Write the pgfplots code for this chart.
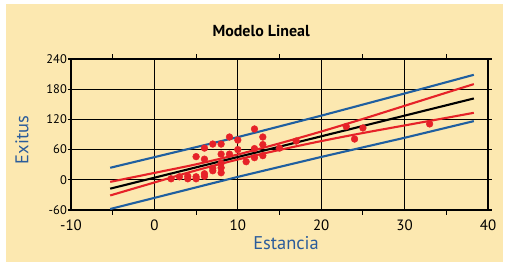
\documentclass[border=0pt]{standalone}
\usepackage{fontspec}
\setmainfont{PT Sans}
\usepackage{pgfplots}
\pgfplotsset{compat=1.18}
\definecolor{bg}{RGB}{252,232,176}
\definecolor{lblue}{RGB}{31,95,160}
\definecolor{labblue}{RGB}{42,92,155}
\definecolor{pred}{RGB}{230,34,40}
\begin{document}
\begin{tikzpicture}[x=1bp,y=1bp]
\fill[white] (0,0) rectangle (508,267);
\fill[bg] (6,5) rectangle (503,263);
\begin{axis}[at={(71bp,57bp)}, anchor=south west, scale only axis,
  width=417bp, height=151bp,
  xmin=-10, xmax=40, ymin=-60, ymax=240,
  xtick={-10,0,...,40}, ytick={-60,0,...,240}, minor xtick={-5,5,...,35},
  grid=major, major grid style={black, line width=1.3bp},
  axis line style={black, line width=1.3bp},
  tick align=outside, major tick length=3.5bp, minor tick length=4.5bp,
  tick style={black, line width=1.1bp},
  major x tick style={draw=none},
  /pgf/number format/assume math mode=true,
  xticklabel style={font=\fontsize{15}{15}\selectfont, anchor=base, yshift=-16.5bp},
  yticklabel style={font=\fontsize{12.5}{12.5}\selectfont, anchor=east, inner sep=0pt, xshift=-0.5bp},
  xlabel={Estancia}, ylabel={Exitus},
  xlabel style={at={(axis description cs:0.5156,-0.2185)}, anchor=center, color=labblue, font=\fontsize{18.5}{18.5}\selectfont},
  ylabel style={at={(axis description cs:-0.1175,0.464)}, anchor=center, color=labblue, font=\fontsize{18.5}{18.5}\selectfont},
  title={Modelo Lineal},
  title style={at={(axis description cs:0.456,1)}, anchor=center, yshift=22bp, font=\bfseries\fontsize{16}{16}\selectfont},
]
% prediction bands (blue)
\addplot[lblue, line width=2.1bp] coordinates {(-5.3,23.9) (10,84.8) (20,127.4) (30,171.5) (38.3,208.6)};
\addplot[lblue, line width=2.1bp] coordinates {(-5.3,-58) (10,5.8) (20,45.4) (30,83.5) (38.3,116.6)};
% confidence bands (red)
\addplot[pred, line width=2.1bp, smooth] coordinates {(-5.3,-4.1) (0,13.7) (5,30.75) (10,50.3) (15,72.35) (20,95.9) (25,120.95) (30,147) (35,173.05) (38.3,190.1)};
\addplot[pred, line width=2.1bp, smooth] coordinates {(-5.3,-31.1) (0,-5.3) (5,18.75) (10,40.3) (15,59.35) (20,76.9) (25,92.95) (30,108) (35,123.05) (38.3,133.1)};
% regression line
\addplot[black, line width=2.1bp] coordinates {(-5.3,-17.6) (38.3,161.6)};
% data
\addplot[only marks, mark=*, mark size=3.4bp, pred, mark options={draw=pred, fill=pred}] coordinates {
(2,2) (3,6) (4,7) (4,2) (5,6) (5,2) (5,46) (6,12) (6,7) (6,41) (6,63)
(7,18) (7,23) (7,71) (8,71) (8,51) (8,33) (8,24) (8,14) (9,51) (9,85)
(10,79) (10,60) (11,36) (12,101) (12,62) (12,44) (13,85) (13,70) (13,48)
(15,63) (17,77) (23,106) (24,81) (25,103) (33,111)};
\end{axis}
\end{tikzpicture}
\end{document}
